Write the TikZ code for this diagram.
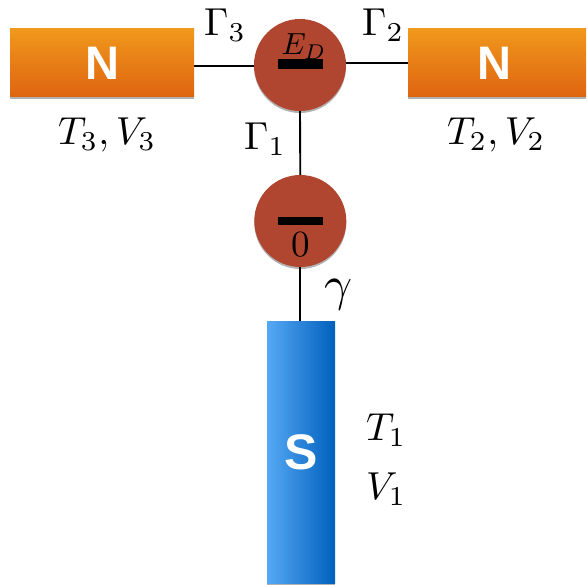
\documentclass[tikz,border=0pt]{standalone}
\usepackage[no-math]{fontspec}
\usepackage{graphicx}
\newfontfamily\boxfont[Ligatures=TeX]{Liberation Sans}
\usetikzlibrary{shadows,backgrounds}
\newcommand{\biglab}[1]{\scalebox{3.9}{$#1$}}
\newcommand{\midlab}[1]{\scalebox{3.05}{$#1$}}
\definecolor{nTop}{HTML}{F0981C}
\definecolor{nBot}{HTML}{DE6410}
\definecolor{sLeft}{HTML}{56A8F5}
\definecolor{sRight}{HTML}{0060BC}
\definecolor{dotBrown}{HTML}{B04530}
\tikzset{
  softshadow/.style={drop shadow={shadow xshift=0pt,shadow yshift=-2pt,opacity=.3,fill=black}},
  nbox/.style={rectangle,draw=none,inner sep=0pt,top color=nTop,bottom color=nBot,softshadow,
    text=white,font=\boxfont\bfseries\fontsize{47}{50}\selectfont},
  sbox/.style={rectangle,draw=none,inner sep=0pt,left color=sLeft,right color=sRight,softshadow,
    text=white,font=\boxfont\bfseries\fontsize{50}{52}\selectfont},
  dot/.style={circle,draw=none,fill=dotBrown,minimum size=92pt,inner sep=0pt,softshadow},
  bar/.style={rectangle,draw=none,fill=black,inner sep=0pt,minimum width=45pt},
  lab/.style={anchor=base west,inner sep=0pt,text=black},
  wire/.style={draw=black,line width=1.9pt}
}
\begin{document}
\begin{tikzpicture}[x=1pt,y=-1pt]
\useasboundingbox (0,0) rectangle (587,585);
\node[nbox,minimum width=184pt,minimum height=68pt] (n3) at (102,63) {N};
\node[nbox,minimum width=178pt,minimum height=68pt] (n2) at (497,63) {\hspace*{-5pt}N};
\node[sbox,minimum width=68pt,minimum height=262pt] (s) at (301,452.5) {S};
\node[dot] (ed) at (300,65) {};
\node[dot] (zero) at (300.3,221) {};
\node[bar,minimum height=10pt] (bared) at (300.5,64) {};
\node[bar,minimum height=8pt] (barzero) at (300.5,221) {};
\begin{scope}[on background layer]
  \draw[wire] ([yshift=-3pt]n3.east) -- ([yshift=-1pt]ed.west);
  \draw[wire] (n2.west) -- ([yshift=2pt]ed.east);
  \draw[wire] (ed.south) -- (zero.north);
  \draw[wire] (zero.south) -- (s.north -| zero.south);
\end{scope}
\node[lab] (edl) at (281.5,54.5) {\midlab{E_D}};
\node[lab] (zl) at (291,257) {\scalebox{3.7}{$0$}};
\node[lab] (g3) at (204,36) {\biglab{\Gamma_3}};
\node[lab] (g2) at (362,36) {\biglab{\Gamma_2}};
\node[lab] (g1) at (244,150) {\biglab{\Gamma_1}};
\node[lab] (gam) at (324,301) {\scalebox{4.9}{$\gamma$}};
\node[lab] (tv3) at (58,145) {\biglab{T_3,V_3}};
\node[lab] (tv2) at (447,145) {\biglab{T_2,V_2}};
\node[lab] (t1) at (366,441) {\biglab{T_1}};
\node[lab] (v1) at (366,500) {\biglab{V_1}};
\end{tikzpicture}
\end{document}
